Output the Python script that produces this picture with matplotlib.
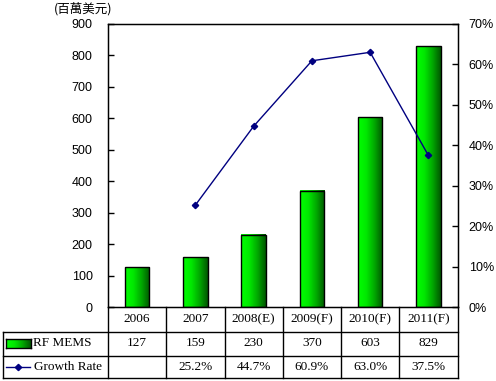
import matplotlib
matplotlib.use("Agg")
import matplotlib.pyplot as plt
import matplotlib.transforms as mtransforms
from matplotlib.lines import Line2D
from matplotlib.colors import LinearSegmentedColormap
import numpy as np

categories = ["2006", "2007", "2008(E)", "2009(F)", "2010(F)", "2011(F)"]
rf_mems = [127, 159, 230, 370, 603, 829]
growth_labels = ["", "25.2%", "44.7%", "60.9%", "63.0%", "37.5%"]
growth_x = [1, 2, 3, 4, 5]
growth = [25.2, 44.7, 60.9, 63.0, 37.5]
left_ticks = list(range(0, 901, 100))
right_ticks = list(range(0, 71, 10))

W, H = 496, 381
fig = plt.figure(figsize=(W / 100, H / 100), dpi=100)
fig.patch.set_facecolor("white")

def fy(y):
    return 1 - y / H

def fx(x):
    return x / W

ax_l, ax_r, ax_t, ax_b = 108, 457.5, 24, 307
ax = fig.add_axes([fx(ax_l), fy(ax_b), fx(ax_r) - fx(ax_l), fy(ax_t) - fy(ax_b)])
x = np.arange(len(categories))
cmap = LinearSegmentedColormap.from_list("g", ["#00ff00", "#00e800", "#00a800", "#005800"])
grad = np.linspace(0, 1, 64).reshape(1, -1)
bars = ax.bar(x, rf_mems, width=0.42, facecolor="none", edgecolor="black", linewidth=1.0, zorder=3)
for b in bars:
    bx, bw, bh = b.get_x(), b.get_width(), b.get_height()
    ax.imshow(grad, cmap=cmap, extent=[bx, bx + bw, 0, bh], aspect="auto", zorder=2,
              interpolation="bilinear")
ax.set_xlim(-0.5, len(categories) - 0.5)
ax.set_ylim(0, 900)
ax.set_yticks(left_ticks)
ax.set_yticklabels([str(t) for t in left_ticks], fontsize=9, family="Liberation Sans")
ax.tick_params(axis="y", direction="in", length=4, pad=11, width=1)
ax.set_xticks([])
for s in ax.spines.values():
    s.set_linewidth(1.0)

ax2 = ax.twinx()
ax2.set_ylim(0, 70)
ax2.set_yticks(right_ticks)
ax2.set_yticklabels([f"{t}%" for t in right_ticks], fontsize=9, family="Liberation Sans")
ax2.tick_params(axis="y", direction="in", length=4, pad=8, width=1)
ax2.plot(growth_x, growth, color="#000080", linewidth=1.0, marker="D", markersize=3.2, zorder=4)
ax2.set_xlim(-0.5, len(categories) - 0.5)

fig.text(fx(83), fy(9), "(百萬美元)", ha="center", va="center", fontsize=9,
         family=["Noto Sans CJK TC", "DejaVu Sans"])

# data table
bt = mtransforms.blended_transform_factory(ax.transData, fig.transFigure)
row_y = [ax_b, 331.5, 355.5, 378]
edges = np.arange(-0.5, len(categories), 1.0)
lk = dict(color="black", linewidth=1.0, clip_on=False)
for e in edges:
    fig.add_artist(Line2D([e, e], [fy(row_y[0]), fy(row_y[3])], transform=bt, **lk))
fig.add_artist(Line2D([fx(3), fx(3)], [fy(row_y[1]), fy(row_y[3])], transform=fig.transFigure, **lk))
for yy in row_y[1:]:
    fig.add_artist(Line2D([fx(3), fx(ax_r)], [fy(yy), fy(yy)], transform=fig.transFigure, **lk))

tf = dict(fontsize=9.5, family="Liberation Serif", ha="center", va="center")
for i, c in enumerate(categories):
    fig.text(x[i], fy((row_y[0] + row_y[1]) / 2), c, transform=bt, **tf)
    fig.text(x[i], fy((row_y[1] + row_y[2]) / 2), str(rf_mems[i]), transform=bt, **tf)
    fig.text(x[i], fy((row_y[2] + row_y[3]) / 2), growth_labels[i], transform=bt, **tf)

# legend keys
ky = (row_y[1] + row_y[2]) / 2
kh = 9
kax = fig.add_axes([fx(6), fy(ky + kh / 2), 25 / W, kh / H])
kax.imshow(grad, cmap=cmap, aspect="auto", interpolation="bilinear")
kax.set_xticks([])
kax.set_yticks([])
for s in kax.spines.values():
    s.set_linewidth(1.0)
fig.text(fx(33), fy(ky), "RF MEMS", fontsize=9.5, family="Liberation Serif", ha="left", va="center")
gy = (row_y[2] + row_y[3]) / 2
fig.add_artist(Line2D([fx(6), fx(30)], [fy(gy), fy(gy)], transform=fig.transFigure,
                      color="#000080", linewidth=1.0))
fig.add_artist(Line2D([fx(18)], [fy(gy)], transform=fig.transFigure, color="#000080",
                      marker="D", markersize=3.2, linestyle="none"))
fig.text(fx(34), fy(gy), "Growth Rate", fontsize=9.5, family="Liberation Serif", ha="left", va="center")

fig.savefig("out.png", dpi=100)
